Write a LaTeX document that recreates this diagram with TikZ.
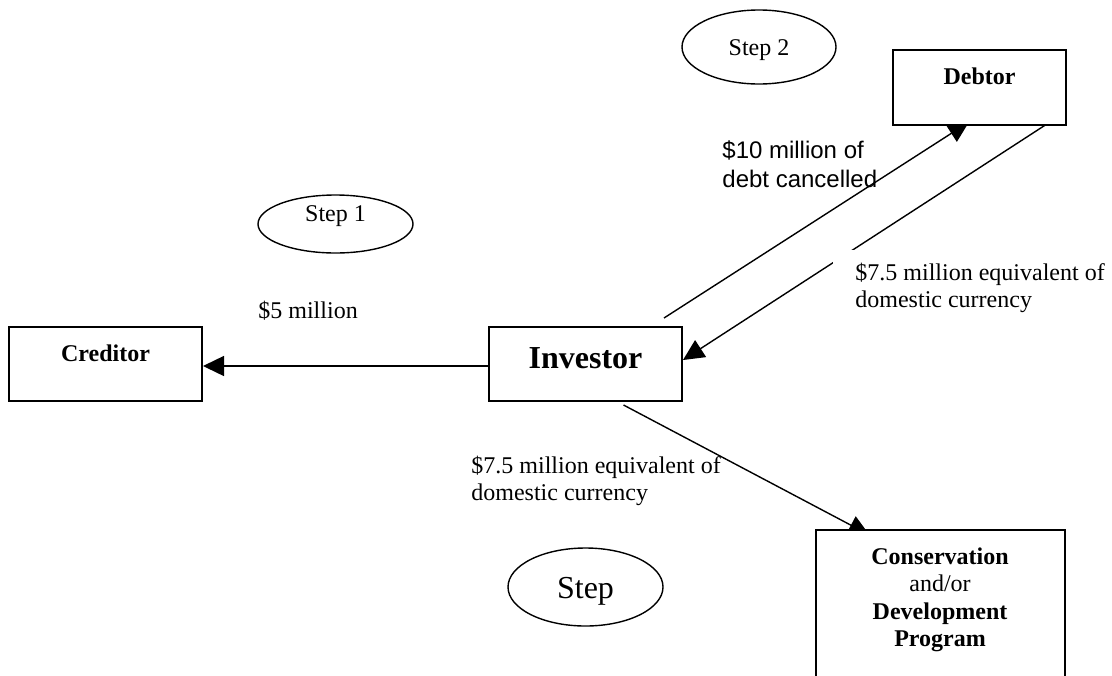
\documentclass[tikz,border=0pt]{standalone}
\usepackage{fontspec}
\setmainfont{Liberation Serif}
\newfontfamily\arialfont{Liberation Sans}
\usepackage{tikz}
\usetikzlibrary{arrows.meta,calc,positioning,shapes.geometric}
\pgfdeclarelayer{edgelayer}
\pgfdeclarelayer{nodelayer}
\pgfsetlayers{edgelayer,nodelayer,main}

\begin{document}
\begin{tikzpicture}[x=0.5pt,y=-0.5pt,
box/.style={draw,fill=white,line width=1pt,inner sep=0pt,anchor=north,minimum width=96.5pt,font=\fontsize{12}{13.8}\selectfont\bfseries},
stp/.style={draw,ellipse,line width=0.7pt,inner sep=0pt,font=\fontsize{12}{13.8}\selectfont},
lbl/.style={inner sep=0pt,anchor=base west,font=\fontsize{12}{13.8}\selectfont},
flow/.style={line width=0.7pt,-{Triangle[length=10.5pt,width=10pt]}}]
\useasboundingbox (0,0) rectangle (1112,675);
\node[box,text height=17pt,text depth=20pt] (C) at (105.5,326) {Creditor};
\node[box,text height=20.75pt,text depth=16.25pt,font=\fontsize{16}{18}\selectfont\bfseries] (I) at (585.5,326) {Investor};
\node[box,minimum width=86.5pt,text height=17pt,text depth=20.5pt] (D) at (979.5,49) {Debtor};
\node[box,minimum width=124.5pt,text height=17pt,text depth=73pt] (P) at (940,529)
  {\begin{tabular}[t]{@{}c@{}}Conservation\\\mdseries and/or\\Development\\Program\end{tabular}};
\node[stp,minimum width=77pt,minimum height=37pt,text height=8pt,text depth=0pt] (S2) at (759,47) {Step 2};
\node[stp,minimum width=77.5pt,minimum height=29pt,text height=6pt,text depth=9pt] (S1) at (335.5,224) {Step 1};
\node[stp,minimum width=77.5pt,minimum height=39pt,text height=11.5pt,text depth=0pt,font=\fontsize{16}{18}\selectfont] (S3) at (585.5,587) {Step\hspace{11.5pt}};
\node[lbl] (L1) at (258,318) {\$5 million};
\node[lbl,font=\arialfont\fontsize{12}{14.5}\selectfont] (L2) at (722,158)
  {\begin{tabular}[t]{@{}l@{}}\$10 million of\\debt cancelled\end{tabular}};
\node[lbl,fill=white,inner xsep=11pt,inner ysep=5.4pt] (L3) at (833,280)
  {\begin{tabular}[t]{@{}l@{}}\$7.5 million equivalent of\\domestic currency\end{tabular}};
\node[lbl] (L4) at (471,473)
  {\begin{tabular}[t]{@{}l@{}}\$7.5 million equivalent of\\domestic currency\end{tabular}};
\begin{pgfonlayer}{edgelayer}
\draw[flow] ([shift={(0,2)}]I.west) -- ([shift={(0,2)}]C.east);
\draw[flow] ([shift={(-19,-8)}]I.north east) -- ([shift={(77,-4)}]D.south west);
\draw[flow] ([shift={(-17,-4)}]D.south east) -- ([shift={(0,-4)}]I.east);
\draw[flow] ([shift={(38,3)}]I.south) -- ([shift={(55,6)}]P.north west);
\end{pgfonlayer}
\end{tikzpicture}
\end{document}
